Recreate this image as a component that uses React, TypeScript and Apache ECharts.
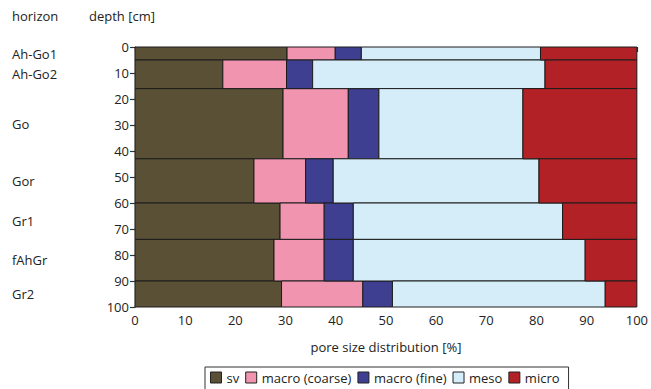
import React, { useEffect, useRef } from "react";
import * as echarts from "echarts";

const horizons = ["Ah-Go1", "Ah-Go2", "Go", "Gor", "Gr1", "fAhGr", "Gr2"];
const depthTop = [0, 5, 16, 43, 60, 74, 90];
const depthBottom = [5, 16, 43, 60, 74, 90, 100];
const classNames = ["sv", "macro (coarse)", "macro (fine)", "meso", "micro"];
const sv = [30.3, 17.5, 29.5, 23.7, 28.9, 27.7, 29.2];
const macroCoarse = [9.6, 12.7, 13.0, 10.3, 8.8, 10.0, 16.2];
const macroFine = [5.2, 5.2, 6.1, 5.5, 5.8, 5.8, 5.9];
const meso = [35.7, 46.3, 28.7, 41.0, 41.7, 46.2, 42.4];
const micro = [19.2, 18.3, 22.7, 19.5, 14.8, 10.3, 6.3];
const classValues = [sv, macroCoarse, macroFine, meso, micro];
const colors = ["#5a5036", "#f094b0", "#3e3f91", "#d5edf8", "#b22125"];

const FONT = "Open Sans";
const FS = 13;

export default function App() {
  const ref = useRef<HTMLDivElement>(null);
  useEffect(() => {
    if (!ref.current) return;
    const chart = echarts.init(ref.current, null, { renderer: "svg" });
    const cum = horizons.map(() => 0);
    const series: any[] = classValues.map((vals, k) => {
      const data = vals.map((v, i) => {
        const start = cum[i];
        cum[i] += v;
        return [start, cum[i], depthTop[i], depthBottom[i]];
      });
      return {
        type: "custom",
        name: classNames[k],
        itemStyle: { color: colors[k] },
        encode: { x: [0, 1], y: [2, 3] },
        data,
        renderItem: (params: any, api: any) => {
          const p0 = api.coord([api.value(0), api.value(2)]);
          const p1 = api.coord([api.value(1), api.value(3)]);
          return {
            type: "rect",
            shape: { x: p0[0], y: p0[1], width: p1[0] - p0[0], height: p1[1] - p0[1] },
            style: { fill: api.visual("color"), stroke: "#1c1c1c", lineWidth: 1 },
          };
        },
      };
    });
    series.push({
      type: "custom",
      name: "horizons",
      silent: true,
      encode: { y: [0, 1] },
      data: horizons.map((h, i) => [depthTop[i], depthBottom[i]]),
      renderItem: (params: any, api: any) => {
        const mid = (api.value(0) + api.value(1)) / 2;
        const p = api.coord([0, mid]);
        return {
          type: "text",
          x: 12,
          y: p[1],
          style: {
            text: horizons[params.dataIndex],
            fill: "#222",
            font: `${FS}px "${FONT}"`,
            textVerticalAlign: "middle",
            verticalAlign: "middle",
          },
        };
      },
    });
    chart.setOption({
      animation: false,
      textStyle: { fontFamily: FONT },
      grid: { left: 135, right: 9.5, top: 47, bottom: 82, containLabel: false },
      xAxis: {
        type: "value",
        min: 0,
        max: 100,
        interval: 10,
        name: "pore size distribution [%]",
        nameLocation: "middle",
        nameGap: 33,
        nameTextStyle: { fontSize: FS, color: "#222", fontFamily: FONT },
        axisLine: { show: true, lineStyle: { color: "#333", width: 1.2 } },
        axisTick: { show: true, length: 5, lineStyle: { color: "#333", width: 1.2 } },
        minorTick: { show: true, splitNumber: 2, length: 5, lineStyle: { color: "#333", width: 1.2 } },
        axisLabel: { fontSize: FS, color: "#222", margin: 6 },
        splitLine: { show: false },
      },
      yAxis: {
        type: "value",
        inverse: true,
        min: 0,
        max: 100,
        interval: 10,
        axisLine: { show: true, lineStyle: { color: "#333", width: 1.2 } },
        axisTick: { show: true, length: 5, lineStyle: { color: "#333", width: 1.2 } },
        axisLabel: { fontSize: FS, color: "#222", margin: 6 },
        splitLine: { show: false },
      },
      legend: {
        data: classNames,
        left: 205,
        top: 367,
        orient: "horizontal",
        itemWidth: 11,
        itemHeight: 11,
        itemGap: 6,
        padding: [4, 9, 8, 5],
        borderColor: "#333",
        borderWidth: 1,
        icon: "rect",
        itemStyle: { borderColor: "#222", borderWidth: 1 },
        textStyle: { fontSize: FS, color: "#222", fontFamily: FONT, padding: [0, 0, 0, 0] },
      },
      graphic: [
        {
          type: "text",
          left: 12,
          top: 9,
          style: { text: "horizon", fill: "#222", font: `${FS}px "${FONT}"` },
        },
        {
          type: "text",
          left: 89,
          top: 9,
          style: { text: "depth [cm]", fill: "#222", font: `${FS}px "${FONT}"` },
        },
      ],
      series,
    });
    return () => chart.dispose();
  }, []);
  return <div ref={ref} style={{ width: 651, height: 389, position: "absolute", left: 0, top: 0 }} />;
}
